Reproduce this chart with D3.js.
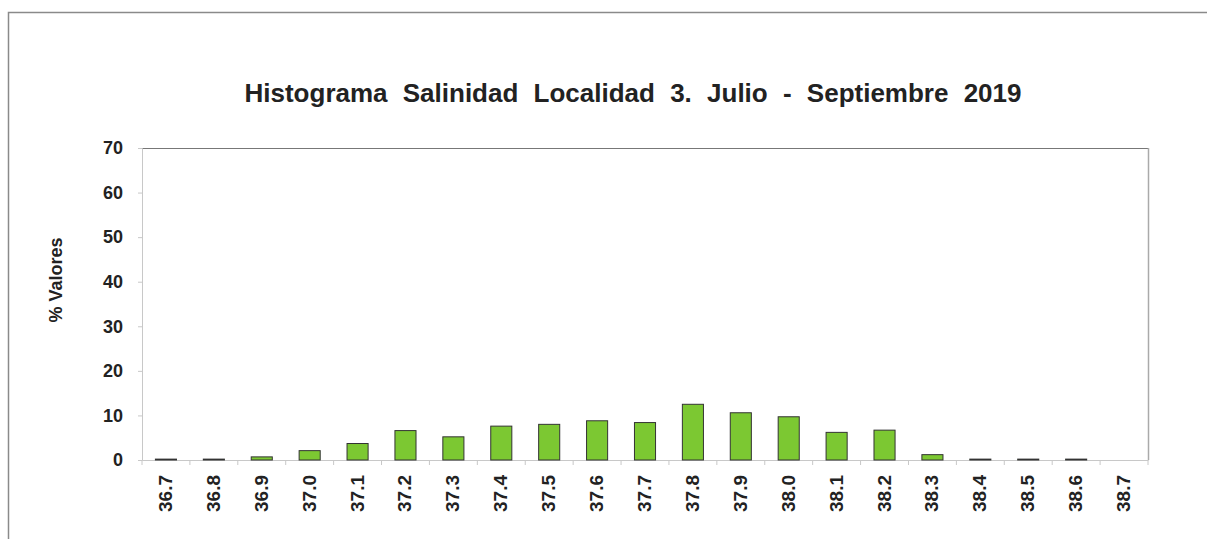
<!DOCTYPE html>
<html><head><meta charset="utf-8">
<script src="https://cdn.jsdelivr.net/npm/d3@7"></script>
<style>body{margin:0;background:#fff}svg{display:block}text{font-family:"Liberation Sans",Arial,sans-serif;font-weight:bold;fill:#222}</style>
</head><body><svg id="c" width="1207" height="539"></svg>
<script>
const categories = ["36.7","36.8","36.9","37.0","37.1","37.2","37.3","37.4","37.5","37.6","37.7","37.8","37.9","38.0","38.1","38.2","38.3","38.4","38.5","38.6","38.7"];
const values = [0.2,0.2,0.7,2.1,3.7,6.6,5.2,7.6,8.0,8.8,8.4,12.5,10.6,9.7,6.2,6.7,1.2,0.2,0.2,0.2,0];
const yTicks = [0,10,20,30,40,50,60,70];
const title = "Histograma Salinidad Localidad 3. Julio - Septiembre 2019";
const yTitle = "% Valores";

const svg = d3.select("#c");
const m = {l:142, r:1148, t:148, b:460};
svg.append("rect").attr("x",8.5).attr("y",12.5).attr("width",1250).attr("height",600)
  .attr("fill","#fff").attr("stroke","#8a8a8a").attr("stroke-width",1.5);

const x = d3.scaleBand().domain(categories).range([m.l,m.r]).paddingInner(0.56).paddingOuter(0.28);
const xb = d3.scaleBand().domain(categories).range([m.l,m.r]);
const y = d3.scaleLinear().domain([0,70]).range([m.b,m.t]);

// plot frame
svg.append("line").attr("x1",m.l).attr("x2",m.r).attr("y1",m.t+0.5).attr("y2",m.t+0.5).attr("stroke","#777").attr("stroke-width",1.2);
svg.append("line").attr("x1",m.r+0.5).attr("x2",m.r+0.5).attr("y1",m.t).attr("y2",m.b).attr("stroke","#aaa").attr("stroke-width",1.5);

// y axis
const ya = svg.append("g").attr("transform",`translate(${m.l},0)`)
  .call(d3.axisLeft(y).tickValues(yTicks).tickSize(4).tickPadding(15));
ya.select(".domain").attr("stroke","#c8c8c8");
ya.selectAll(".tick line").attr("stroke","#c8c8c8");
ya.selectAll("text").attr("font-size",18).attr("fill","#222").attr("font-family","Liberation Sans, Arial, sans-serif");

// x axis
const xa = svg.append("g").attr("transform",`translate(0,${m.b})`)
  .call(d3.axisBottom(xb).tickSize(0).tickFormat(""));
xa.select(".domain").attr("stroke","#c8c8c8");
const bounds = categories.map((c,i)=>xb(c)).concat([m.r]);
xa.selectAll(".bt").data(bounds).join("line").attr("class","bt")
  .attr("x1",d=>d).attr("x2",d=>d).attr("y1",0).attr("y2",5).attr("stroke","#c8c8c8");
svg.append("g").selectAll("text").data(categories).join("text")
  .attr("transform",d=>`translate(${xb(d)+xb.bandwidth()/2+6},475) rotate(-90)`)
  .attr("text-anchor","end").attr("font-size",19).text(d=>d);

// bars
svg.append("g").selectAll("rect").data(values.map((v,i)=>({c:categories[i],v}))).join("rect")
  .attr("x",d=>x(d.c)).attr("width",x.bandwidth())
  .attr("y",d=>y(d.v)).attr("height",d=>y(0)-y(d.v))
  .attr("fill","#7cc832").attr("stroke","#333").attr("stroke-width",1)
  .attr("display",d=>d.v>0?null:"none");

svg.append("text").attr("x",633).attr("y",102).attr("text-anchor","middle")
  .attr("font-size",26).attr("word-spacing",8).text(title);
svg.append("text").attr("transform","translate(62,280) rotate(-90)").attr("text-anchor","middle")
  .attr("font-size",18).text(yTitle);
</script></body></html>
